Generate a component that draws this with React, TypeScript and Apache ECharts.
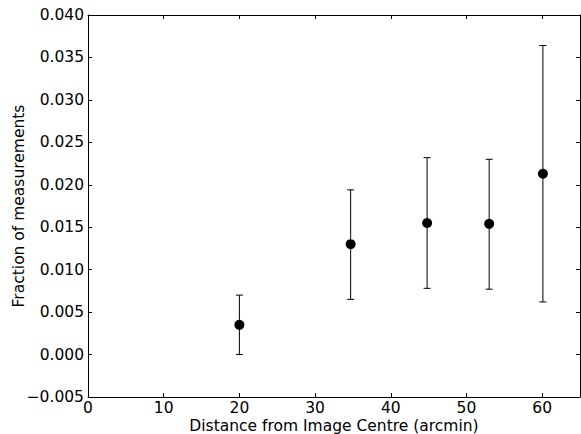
import React, { useEffect, useRef } from "react";
import * as echarts from "echarts";

const distances = [20.0, 34.7, 44.8, 53.0, 60.1];
const fractions = [0.0035, 0.0130, 0.0155, 0.0154, 0.0213];
const lowerBounds = [0.0000, 0.0065, 0.0078, 0.0077, 0.0062];
const upperBounds = [0.0070, 0.0194, 0.0232, 0.0230, 0.0364];

const FONT = "DejaVu Sans";
const FS = 15.5;

const fmtY = (v: number) => {
  const s = Math.abs(v).toFixed(3);
  return (v < -1e-9 ? "\u2212" : "") + s;
};

export default function App() {
  const ref = useRef<HTMLDivElement>(null);
  useEffect(() => {
    if (!ref.current) return;
    const chart = echarts.init(ref.current, undefined, { renderer: "svg" });
    const pointData = distances.map((d, i) => [d, fractions[i]]);
    const errData = distances.map((d, i) => [d, lowerBounds[i], upperBounds[i]]);
    const axisLine = { show: true, onZero: false, lineStyle: { color: "#000", width: 1 } };
    const tick = { show: true, inside: true, length: 4, lineStyle: { color: "#000", width: 1 } };
    chart.setOption({
      animation: false,
      backgroundColor: "#fff",
      grid: { left: 88, right: 1, top: 15, bottom: 37, containLabel: false, outerBoundsMode: "none" },
      xAxis: [
        {
          type: "value",
          min: 0,
          max: 65,
          interval: 10,
          position: "bottom",
          axisLine,
          axisTick: tick,
          splitLine: { show: false },
          axisLabel: { color: "#000", fontFamily: FONT, fontSize: FS, lineHeight: 14, margin: 4, showMaxLabel: false },
          name: "Distance from Image Centre (arcmin)",
          nameLocation: "middle",
          nameGap: 22,
          nameMoveOverlap: false,
          nameTextStyle: { color: "#000", fontFamily: FONT, fontSize: FS, lineHeight: 14 },
        },
        {
          type: "value",
          min: 0,
          max: 65,
          interval: 10,
          position: "top",
          axisLine,
          axisTick: tick,
          splitLine: { show: false },
          axisLabel: { show: false },
        },
      ],
      yAxis: [
        {
          type: "value",
          min: -0.005,
          max: 0.04,
          interval: 0.005,
          position: "left",
          axisLine,
          axisTick: tick,
          splitLine: { show: false },
          axisLabel: { color: "#000", fontFamily: FONT, fontSize: FS, margin: 4, formatter: fmtY },
          name: "Fraction of measurements",
          nameLocation: "middle",
          nameGap: 61,
          nameMoveOverlap: false,
          nameTextStyle: { color: "#000", fontFamily: FONT, fontSize: FS },
        },
        {
          type: "value",
          min: -0.005,
          max: 0.04,
          interval: 0.005,
          position: "right",
          axisLine,
          axisTick: tick,
          splitLine: { show: false },
          axisLabel: { show: false },
        },
      ],
      series: [
        {
          type: "custom",
          xAxisIndex: 0,
          yAxisIndex: 0,
          data: errData,
          renderItem: (params: any, api: any) => {
            const x = api.value(0);
            const lo = api.coord([x, api.value(1)]);
            const hi = api.coord([x, api.value(2)]);
            const hw = 3.5;
            const style = { stroke: "#000", lineWidth: 1 };
            return {
              type: "group",
              children: [
                { type: "line", shape: { x1: lo[0], y1: lo[1], x2: hi[0], y2: hi[1] }, style },
                { type: "line", shape: { x1: lo[0] - hw, y1: lo[1], x2: lo[0] + hw, y2: lo[1] }, style },
                { type: "line", shape: { x1: hi[0] - hw, y1: hi[1], x2: hi[0] + hw, y2: hi[1] }, style },
              ],
            };
          },
          z: 2,
        },
        {
          type: "scatter",
          xAxisIndex: 0,
          yAxisIndex: 0,
          data: pointData,
          symbol: "circle",
          symbolSize: 10,
          itemStyle: { color: "#000", opacity: 1 },
          z: 3,
        },
      ],
    });
    return () => chart.dispose();
  }, []);
  return <div ref={ref} style={{ width: 581, height: 434, position: "absolute", left: 0, top: 0 }} />;
}
